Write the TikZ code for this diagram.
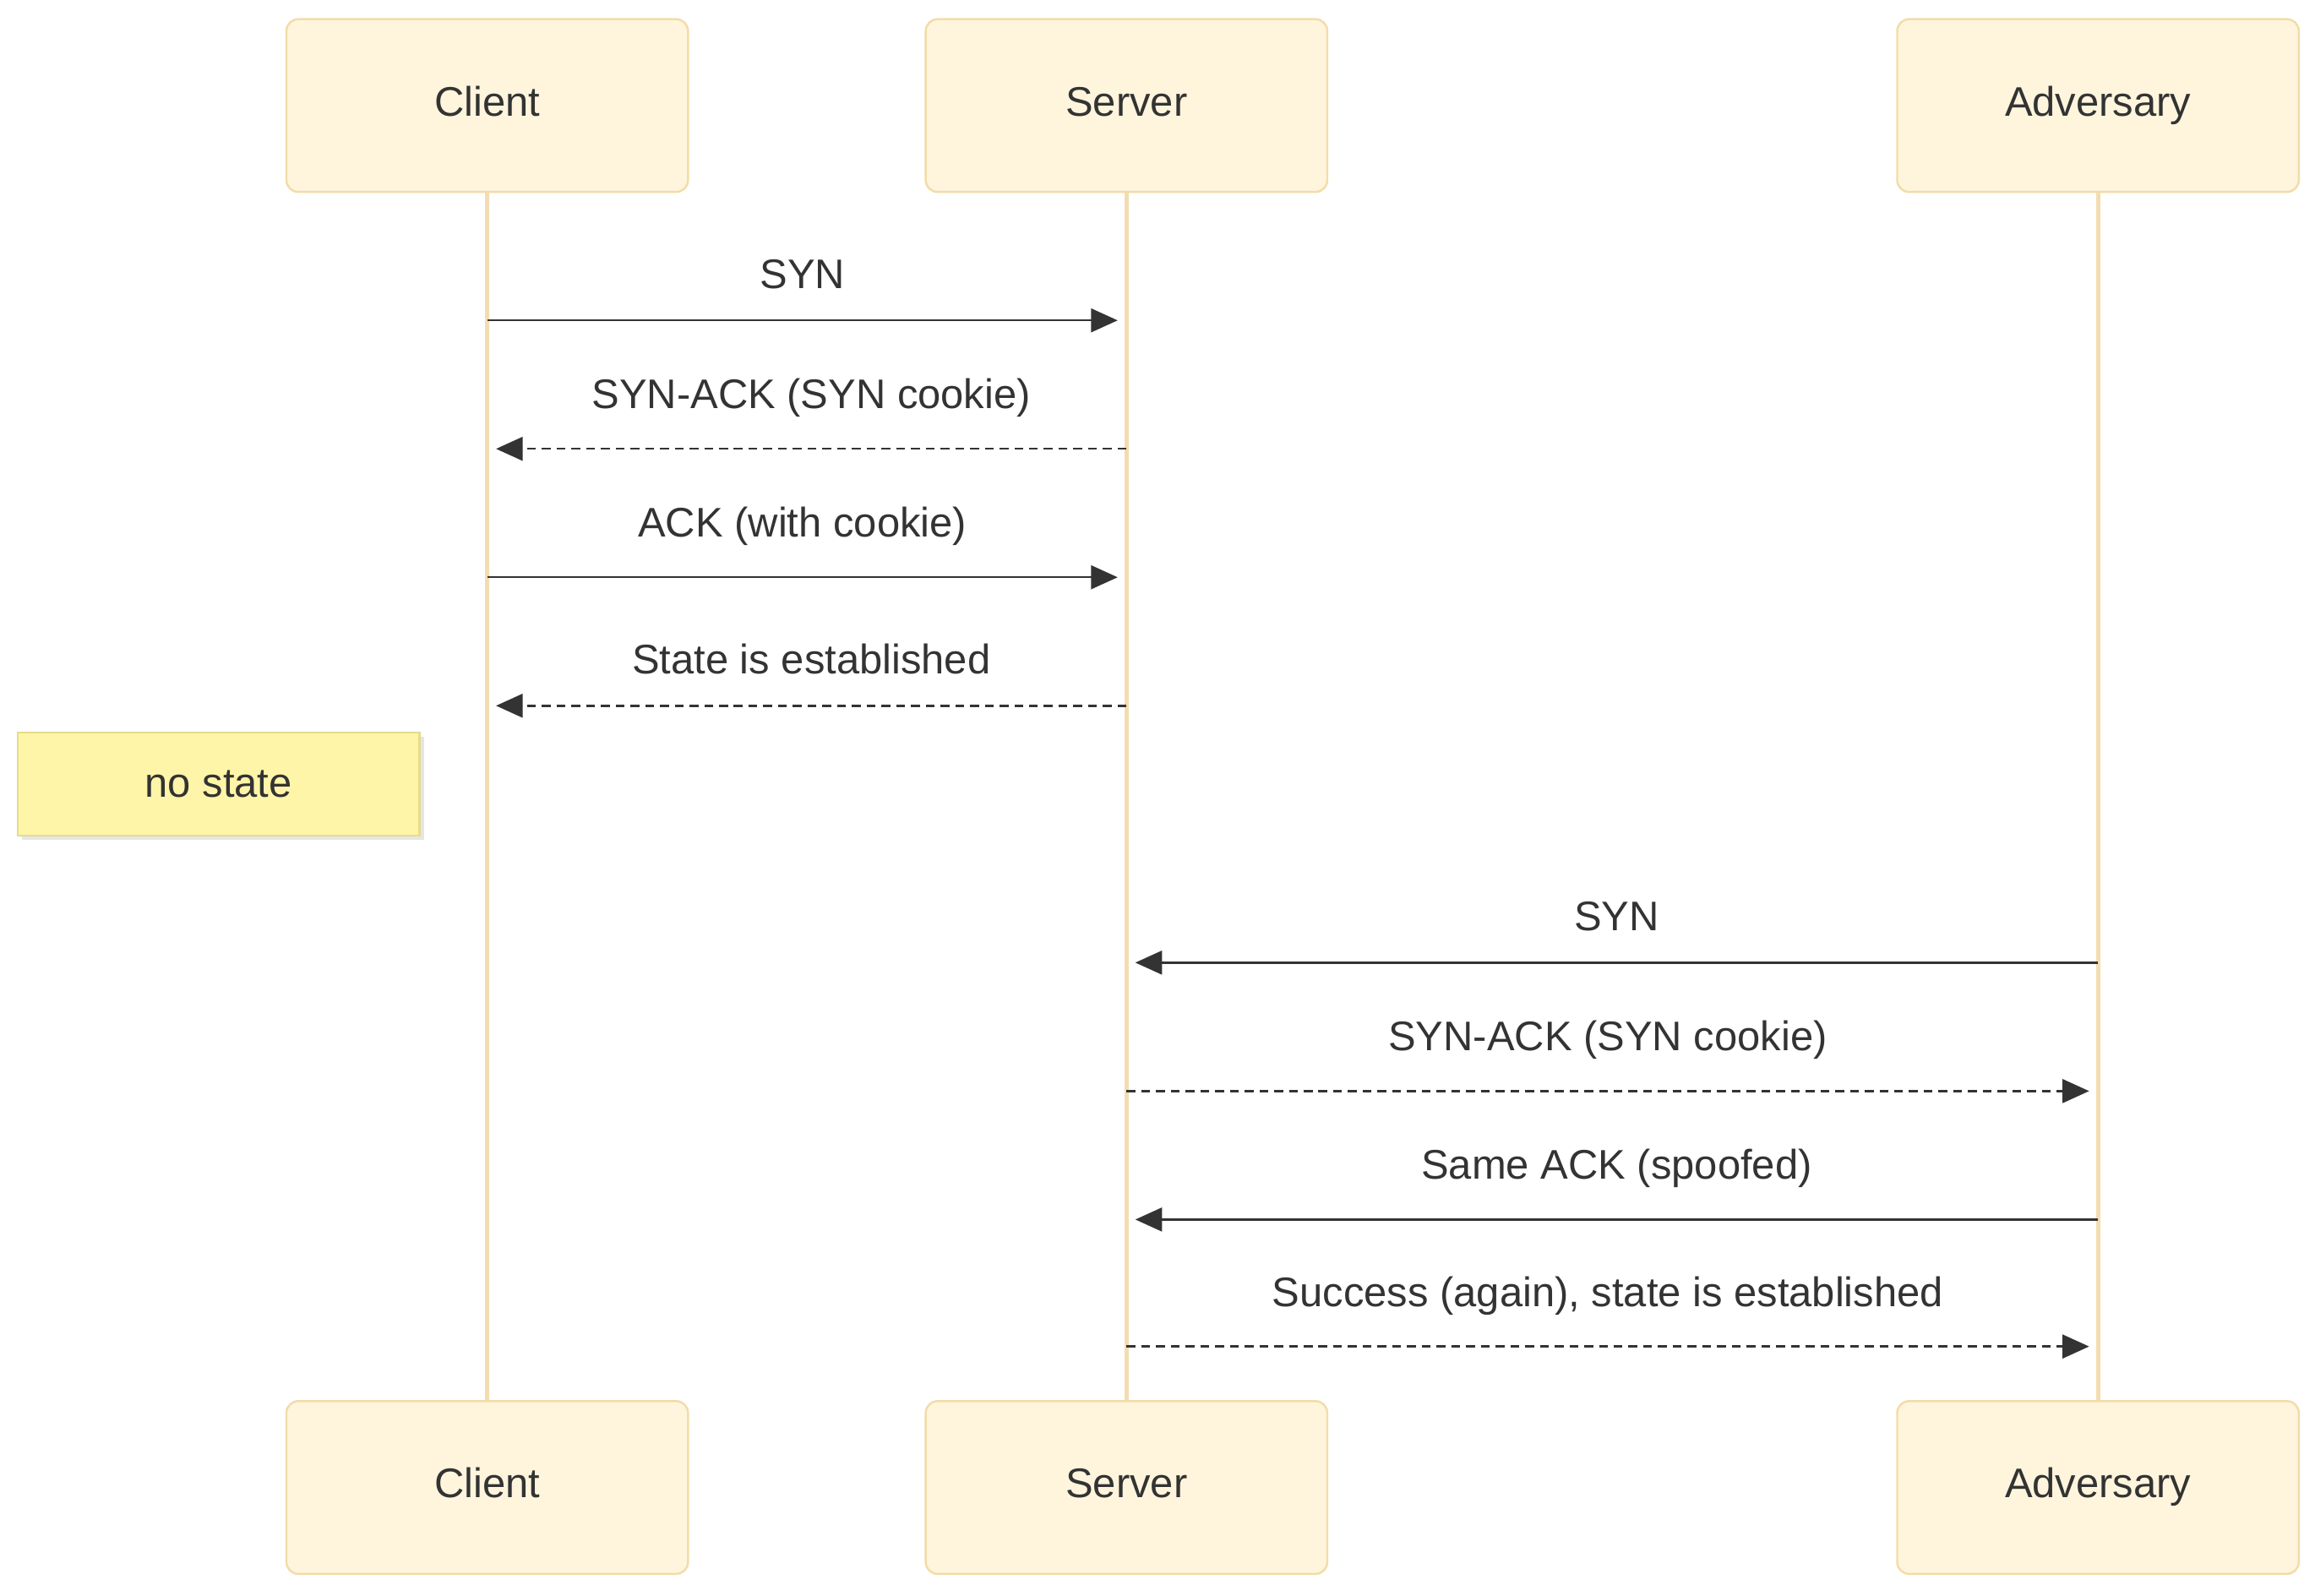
\documentclass[tikz,border=0pt]{standalone}
\usepackage{fontspec}
\setmainfont{Liberation Sans}
\usetikzlibrary{arrows.meta,shadows}
\definecolor{actfill}{HTML}{FFF5DD}
\definecolor{actline}{HTML}{F2DCA8}
\definecolor{lifeline}{HTML}{F3DDB0}
\definecolor{notefill}{HTML}{FFF5A8}
\definecolor{noteline}{HTML}{E6DC8C}
\definecolor{ink}{HTML}{333333}
\begin{document}
\begin{tikzpicture}[x=0.5pt, y=-0.5pt,
		actor/.style={draw=actline, fill=actfill, rounded corners=4pt, line width=0.7pt,
			minimum width=136pt, minimum height=58.5pt, text=ink, text height=10pt, text depth=3pt,
			font=\fontsize{14}{17}\selectfont},
		life/.style={draw=lifeline, line width=1.5pt},
		msg/.style={draw=ink, line width=0.7pt, -{Triangle[length=9pt, width=8pt]}},
		reply/.style={msg, dashed, dash pattern=on 3pt off 2pt},
		lbl/.style={text=ink, font=\fontsize{14}{17}\selectfont, above=7pt},
		note/.style={draw=noteline, fill=notefill, line width=0.7pt,
			drop shadow={opacity=0.2, shadow xshift=1.5pt, shadow yshift=-1.5pt},
			minimum width=136pt, minimum height=35pt, text=ink,
			font=\fontsize{14}{17}\selectfont}
	]
	\useasboundingbox (0,0) rectangle (1568,1081);

	% actors
	\foreach \name/\x/\txt in {client/330/Client, server/763/Server, adv/1421/Adversary}{
		\node[actor] (\name top) at (\x, 71.5) {\txt};
		\node[actor] (\name bot) at (\x, 1007.5) {\txt};
		\draw[life] (\name top) -- (\name bot);
	}

	% message points
	\foreach \y in {217,304,391,478,652,739,826,912}{
		\coordinate (c\y) at (330, \y);
		\coordinate (s\y) at (763, \y);
		\coordinate (a\y) at (1421, \y);
	}

	\draw[msg] (c217) -- node[lbl] {SYN} ([xshift=-3pt]s217);
	\draw[reply] (s304) -- node[lbl] {SYN-ACK (SYN cookie)} ([xshift=3pt]c304);
	\draw[msg] (c391) -- node[lbl] {ACK (with cookie)} ([xshift=-3pt]s391);
	\draw[reply] (s478) -- node[lbl] {State is established} ([xshift=3pt]c478);

	\node[note] (nostate) at (148, 531) {no state};

	\draw[msg] (a652) -- node[lbl] {SYN} ([xshift=3pt]s652);
	\draw[reply] (s739) -- node[lbl] {SYN-ACK (SYN cookie)} ([xshift=-3pt]a739);
	\draw[msg] (a826) -- node[lbl] {Same ACK (spoofed)} ([xshift=3pt]s826);
	\draw[reply] (s912) -- node[lbl] {Success (again), state is established} ([xshift=-3pt]a912);
\end{tikzpicture}
\end{document}
